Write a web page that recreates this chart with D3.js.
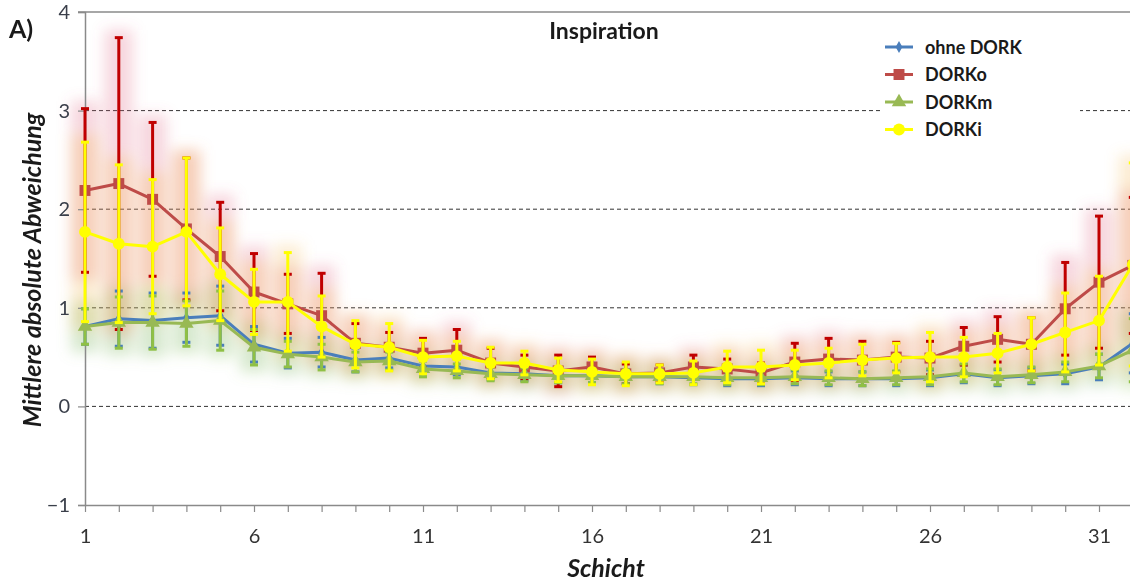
<!DOCTYPE html>
<html>
<head>
<meta charset="utf-8">
<script src="https://cdn.jsdelivr.net/npm/d3@7"></script>
<style>
  body { margin: 0; background: #fff; }
  svg { display: block; font-family: "Lato", "Open Sans", sans-serif; }
</style>
</head>
<body>
<div class="chart-container"></div>
<script>
// Schicht 1..32
const layers = [1, 2, 3, 4, 5, 6, 7, 8, 9, 10, 11, 12, 13, 14, 15, 16,
                17, 18, 19, 20, 21, 22, 23, 24, 25, 26, 27, 28, 29, 30, 31, 32];
const xTickLabels = [1, 6, 11, 16, 21, 26, 31];
const yTicks = [-1, 0, 1, 2, 3, 4];
const seriesNames = ["ohne DORK", "DORKo", "DORKm", "DORKi"];

const ohneDork = [0.81, 0.89, 0.87, 0.90, 0.92, 0.63, 0.54, 0.55, 0.47, 0.49, 0.41, 0.40,
                  0.34, 0.33, 0.31, 0.31, 0.30, 0.30, 0.29, 0.28, 0.28, 0.29, 0.28, 0.28,
                  0.28, 0.29, 0.33, 0.29, 0.31, 0.33, 0.40, 0.64];
const ohneDorkSd = [0.18, 0.28, 0.28, 0.25, 0.30, 0.18, 0.15, 0.15, 0.12, 0.10, 0.09, 0.08,
                    0.07, 0.07, 0.07, 0.07, 0.07, 0.07, 0.07, 0.07, 0.07, 0.07, 0.07, 0.07,
                    0.07, 0.08, 0.09, 0.08, 0.08, 0.10, 0.13, 0.30];

const dorkO = [2.19, 2.26, 2.10, 1.80, 1.52, 1.16, 1.04, 0.92, 0.64, 0.60, 0.54, 0.57,
               0.44, 0.40, 0.36, 0.40, 0.33, 0.34, 0.40, 0.38, 0.34, 0.45, 0.48, 0.47,
               0.50, 0.49, 0.61, 0.68, 0.63, 0.99, 1.26, 1.43];
const dorkOSd = [0.83, 1.48, 0.78, 0.72, 0.55, 0.39, 0.30, 0.43, 0.20, 0.15, 0.15, 0.21,
                 0.15, 0.12, 0.16, 0.10, 0.10, 0.08, 0.12, 0.10, 0.10, 0.19, 0.21, 0.19,
                 0.15, 0.17, 0.19, 0.23, 0.27, 0.47, 0.67, 0.69];

const dorkM = [0.81, 0.85, 0.85, 0.84, 0.87, 0.60, 0.53, 0.50, 0.45, 0.46, 0.38, 0.36,
               0.33, 0.32, 0.31, 0.31, 0.30, 0.30, 0.30, 0.29, 0.29, 0.30, 0.29, 0.28,
               0.29, 0.30, 0.34, 0.30, 0.32, 0.35, 0.41, 0.57];
const dorkMSd = [0.18, 0.26, 0.27, 0.23, 0.30, 0.18, 0.13, 0.13, 0.10, 0.09, 0.08, 0.07,
                 0.07, 0.07, 0.07, 0.07, 0.07, 0.07, 0.07, 0.07, 0.07, 0.07, 0.07, 0.07,
                 0.07, 0.08, 0.09, 0.08, 0.08, 0.10, 0.12, 0.32];

const dorkI = [1.77, 1.65, 1.62, 1.77, 1.34, 1.06, 1.06, 0.81, 0.63, 0.60, 0.50, 0.51,
               0.44, 0.44, 0.37, 0.35, 0.33, 0.33, 0.34, 0.40, 0.40, 0.42, 0.44, 0.47,
               0.49, 0.50, 0.50, 0.54, 0.63, 0.75, 0.87, 1.44];
const dorkISd = [0.91, 0.80, 0.68, 0.75, 0.47, 0.33, 0.50, 0.31, 0.24, 0.24, 0.17, 0.15,
                 0.16, 0.12, 0.12, 0.13, 0.12, 0.09, 0.12, 0.16, 0.17, 0.15, 0.15, 0.16,
                 0.15, 0.25, 0.20, 0.20, 0.27, 0.40, 0.45, 1.03];

const series = [
  { name: seriesNames[0], values: ohneDork, sd: ohneDorkSd, line: "#4a7ebb", bar: "#4a7ebb", glow: "#6f95d0", marker: "diamond" },
  { name: seriesNames[1], values: dorkO, sd: dorkOSd, line: "#be4b48", bar: "#c00000", glow: "#e0607a", marker: "square" },
  { name: seriesNames[2], values: dorkM, sd: dorkMSd, line: "#98b954", bar: "#8fc045", glow: "#8cc850", marker: "triangle" },
  { name: seriesNames[3], values: dorkI, sd: dorkISd, line: "#ffff00", bar: "#ffff00", glow: "#f2b84a", marker: "circle" }
];

const W = 1130, H = 583;
const svg = d3.select(".chart-container").append("svg")
              .attr("width", W).attr("height", H);

const defs = svg.append("defs");
defs.append("filter").attr("id", "glow")
    .attr("x", "-100%").attr("y", "-50%").attr("width", "300%").attr("height", "200%")
    .append("feGaussianBlur").attr("stdDeviation", 7);

const x = d3.scaleLinear().domain([1, 31]).range([85, 1099]);
const y = d3.scaleLinear().domain([-1, 4]).range([505, 12]);

// frame top line
svg.append("line")
   .attr("x1", 78).attr("x2", W).attr("y1", y(4)).attr("y2", y(4))
   .attr("stroke", "#8a8a8a").attr("stroke-width", 1.5);

// dashed gridlines
svg.append("g").selectAll("line").data([0, 1, 2, 3]).enter()
   .append("line")
   .attr("x1", x(1)).attr("x2", W)
   .attr("y1", d => y(d)).attr("y2", d => y(d))
   .attr("stroke", "#333").attr("stroke-width", 1)
   .attr("stroke-dasharray", "4,3");

// glow behind error bars
const glowG = svg.append("g").attr("filter", "url(#glow)");
series.forEach(s => {
  glowG.append("g").selectAll("rect").data(layers).enter()
       .append("rect")
       .attr("x", d => x(d) - 14)
       .attr("width", 28)
       .attr("y", (d, i) => y(s.values[i] + s.sd[i]) - 8)
       .attr("height", (d, i) => y(s.values[i] - s.sd[i]) - y(s.values[i] + s.sd[i]) + 16)
       .attr("fill", s.glow)
       .attr("opacity", s.marker === "diamond" ? 0.1 : 0.25);
});

// axes
const yAxis = svg.append("g")
   .attr("transform", `translate(${x(1)},0)`)
   .call(d3.axisLeft(y).tickValues(yTicks).tickSize(7).tickPadding(8).tickFormat(d3.format("d")));
const xAxis = svg.append("g")
   .attr("transform", `translate(0,${y(-1)})`)
   .call(d3.axisBottom(x).tickValues(layers).tickSize(7).tickPadding(17)
         .tickFormat(d => xTickLabels.includes(d) ? d : ""));
xAxis.select(".domain").attr("d", `M${x(1)},0.5H${W}`);
[yAxis, xAxis].forEach(a => {
  a.select(".domain").attr("stroke", "#8a8a8a").attr("stroke-width", 1.5);
  a.selectAll(".tick line").attr("stroke", "#8a8a8a").attr("stroke-width", 1.2);
  a.selectAll(".tick text").attr("fill", "#333").style("font-size", "20px")
   .style("font-family", "Lato, sans-serif");
});
yAxis.selectAll(".tick text").attr("fill", "#3a3f4a");

// marker shapes
function markerPath(type) {
  if (type === "diamond") return d3.symbol().type(d3.symbolDiamond).size(40)();
  if (type === "square") return d3.symbol().type(d3.symbolSquare).size(120)();
  if (type === "triangle") return d3.symbol().type(d3.symbolTriangle).size(90)();
  return d3.symbol().type(d3.symbolCircle).size(110)();
}

const line = d3.line().x((d, i) => x(layers[i])).y(d => y(d));

series.forEach(s => {
  const g = svg.append("g");
  // error bars
  const eb = g.append("g").selectAll("g").data(layers).enter().append("g");
  eb.append("line")
    .attr("x1", d => x(d)).attr("x2", d => x(d))
    .attr("y1", (d, i) => y(s.values[i] + s.sd[i]))
    .attr("y2", (d, i) => y(s.values[i] - s.sd[i]))
    .attr("stroke", s.bar).attr("stroke-width", 3);
  [1, -1].forEach(sign => {
    eb.append("line")
      .attr("x1", d => x(d) - 4).attr("x2", d => x(d) + 4)
      .attr("y1", (d, i) => y(s.values[i] + sign * s.sd[i]))
      .attr("y2", (d, i) => y(s.values[i] + sign * s.sd[i]))
      .attr("stroke", s.bar).attr("stroke-width", 3);
  });
  g.append("path").datum(s.values)
   .attr("d", line).attr("fill", "none")
   .attr("stroke", s.line).attr("stroke-width", 3).attr("stroke-linejoin", "round");
  g.append("g").selectAll("path").data(s.values).enter()
   .append("path")
   .attr("d", markerPath(s.marker))
   .attr("transform", (d, i) => `translate(${x(layers[i])},${y(d)})`)
   .attr("fill", s.line);
});

// white box of the legend
const legend = svg.append("g").attr("transform", "translate(880,34)");
legend.append("rect").attr("x", 0).attr("y", 0).attr("width", 200).attr("height", 110).attr("fill", "#fff");
series.forEach((s, i) => {
  const row = legend.append("g").attr("transform", `translate(0,${13 + i * 27.5})`);
  row.append("line").attr("x1", 5).attr("x2", 33).attr("y1", 0).attr("y2", 0)
     .attr("stroke", s.line).attr("stroke-width", 3);
  row.append("path").attr("d", markerPath(s.marker)).attr("transform", "translate(19,0)").attr("fill", s.line);
  row.append("text").attr("x", 45).attr("y", 6.5).text(s.name)
     .style("font-size", "18px").style("font-weight", "bold").attr("fill", "#1a1a1a");
});

// texts
svg.append("text").attr("x", 604).attr("y", 39).attr("text-anchor", "middle")
   .style("font-size", "23px").style("font-weight", "bold").attr("fill", "#1a1a1a").text("Inspiration");
svg.append("text").attr("x", 9).attr("y", 38)
   .style("font-size", "25px").style("font-weight", "bold").attr("fill", "#1a1a1a").text("A)");
svg.append("text").attr("x", 606).attr("y", 577).attr("text-anchor", "middle")
   .style("font-size", "25px").style("font-style", "italic").style("font-weight", "bold")
   .attr("fill", "#1a1a1a").text("Schicht");
svg.append("text").attr("transform", "translate(41,270) rotate(-90)").attr("text-anchor", "middle")
   .style("font-size", "25px").style("font-style", "italic").style("font-weight", "bold")
   .attr("fill", "#1a1a1a").text("Mittlere absolute Abweichung");
</script>
</body>
</html>
